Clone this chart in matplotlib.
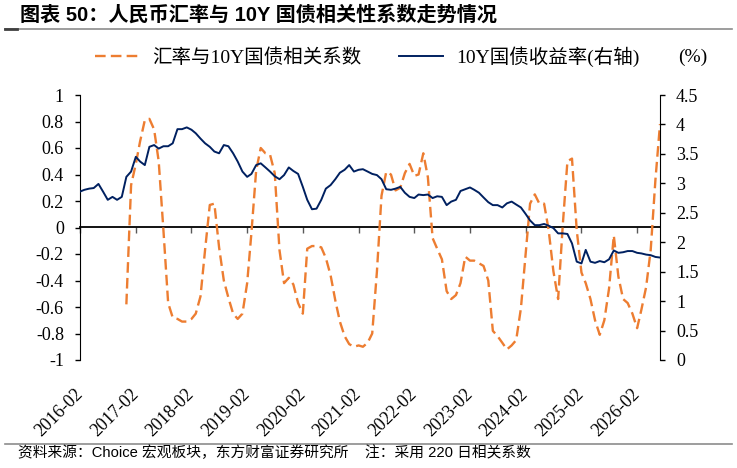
import matplotlib.pyplot as plt
import matplotlib.dates as mdates
import numpy as np
import pandas as pd

plt.rcParams['font.family'] = ['Liberation Serif', 'Noto Sans CJK SC']

# monthly points, 2016-02 .. 2026-07
months = pd.date_range('2016-02-01', '2026-07-01', freq='MS')

# 10Y government bond yield (%), right axis
yield_10y = [
    2.86, 2.89, 2.91, 2.92, 2.99, 2.86, 2.72, 2.77, 2.72, 2.77,
    3.11, 3.20, 3.45, 3.37, 3.31, 3.62, 3.65, 3.59, 3.63, 3.63,
    3.68, 3.92, 3.92, 3.95, 3.91, 3.85, 3.76, 3.68, 3.62, 3.54,
    3.51, 3.65, 3.63, 3.51, 3.37, 3.20, 3.11, 3.16, 3.31, 3.34,
    3.27, 3.20, 3.12, 3.07, 3.14, 3.27, 3.21, 3.16, 2.94, 2.72,
    2.56, 2.57, 2.72, 2.91, 2.97, 3.07, 3.18, 3.23, 3.31, 3.20,
    3.23, 3.24, 3.20, 3.16, 3.14, 3.07, 2.90, 2.89, 2.91, 2.94,
    2.84, 2.77, 2.75, 2.81, 2.80, 2.81, 2.75, 2.78, 2.77, 2.63,
    2.69, 2.72, 2.87, 2.90, 2.93, 2.89, 2.84, 2.76, 2.68, 2.63,
    2.63, 2.59, 2.66, 2.69, 2.64, 2.59, 2.48, 2.37, 2.29, 2.29,
    2.31, 2.28, 2.24, 2.15, 2.15, 2.14, 1.98, 1.67, 1.64, 1.87,
    1.67, 1.65, 1.68, 1.66, 1.71, 1.86, 1.82, 1.83, 1.85, 1.85,
    1.82, 1.81, 1.79, 1.78, 1.75, 1.74,
]

# 220-day correlation, FX vs 10Y yield, left axis
corr_fx = [np.nan] * 10 + [
    -0.58, 0.32, 0.48, 0.65, 0.81, 0.82, 0.74, 0.50, -0.02, -0.57,
    -0.68, -0.69, -0.71, -0.71, -0.69, -0.65, -0.52, -0.17, 0.17, 0.18,
    -0.15, -0.40, -0.53, -0.65, -0.69, -0.65, -0.42, -0.04, 0.43, 0.60,
    0.56, 0.55, 0.41, -0.17, -0.42, -0.38, -0.43, -0.57, -0.65, -0.16,
    -0.14, -0.14, -0.15, -0.23, -0.36, -0.55, -0.71, -0.82, -0.88, -0.90,
    -0.89, -0.90, -0.87, -0.80, -0.33, 0.24, 0.42, 0.40, 0.28, 0.30,
    0.41, 0.48, 0.39, 0.40, 0.56, 0.38, -0.08, -0.16, -0.24, -0.48,
    -0.54, -0.51, -0.42, -0.22, -0.25, -0.25, -0.27, -0.29, -0.40, -0.78,
    -0.82, -0.87, -0.92, -0.89, -0.85, -0.61, -0.20, 0.18, 0.25, 0.18,
    0.18, -0.02, -0.33, -0.54, 0.01, 0.50, 0.52, -0.02, -0.34, -0.42,
    -0.54, -0.70, -0.81, -0.70, -0.46, -0.06, -0.37, -0.54, -0.57, -0.65,
    -0.76, -0.62, -0.45, -0.17, 0.36, 0.78,
]

tick_labels = ['2016-02', '2017-02', '2018-02', '2019-02', '2020-02', '2021-02',
               '2022-02', '2023-02', '2024-02', '2025-02', '2026-02']
left_ticks = [1, 0.8, 0.6, 0.4, 0.2, 0, -0.2, -0.4, -0.6, -0.8, -1]
left_labels = ['1', '0.8', '0.6', '0.4', '0.2', '0', '-0.2', '-0.4', '-0.6', '-0.8', '-1']
right_ticks = [0, 0.5, 1, 1.5, 2, 2.5, 3, 3.5, 4, 4.5]
right_labels = ['0', '0.5', '1', '1.5', '2', '2.5', '3', '3.5', '4', '4.5']

tick_dates = pd.to_datetime(tick_labels)

fig = plt.figure(figsize=(7.37, 4.68), dpi=100)
ax = fig.add_axes([80 / 737, 1 - 360 / 468, 580 / 737, 265 / 468])
ax2 = ax.twinx()

l1, = ax.plot(months, corr_fx, color='#ED7D31', lw=1.7, dashes=(4.5, 2.2))
l2, = ax2.plot(months, yield_10y, color='#002060', lw=1.4)

ax.set_xlim(months[0], months[-1])
ax.set_ylim(-1, 1)
ax2.set_ylim(0, 4.5)

for s in ['top', 'right', 'bottom']:
    ax.spines[s].set_visible(False)
for s in ['top', 'left', 'bottom']:
    ax2.spines[s].set_visible(False)

# horizontal axis line at 0 with tick marks
zero = ax.secondary_xaxis(0.5)
zero.set_alignment('bottom')
zero.set_xticks(mdates.date2num(tick_dates))
zero.tick_params(axis='x', direction='out', length=4, width=1, color='#595959',
                 labelbottom=False, labeltop=False)
zero.spines['bottom'].set_linewidth(1.3)

ax.set_xticks(tick_dates)
ax.set_xticklabels(tick_labels, rotation=45, ha='right', va='center',
                   rotation_mode='anchor', fontsize=13)
ax.tick_params(axis='x', length=0, pad=23)

ax.set_yticks(left_ticks)
ax.set_yticklabels(left_labels, fontsize=13)
ax.tick_params(axis='y', direction='out', length=3.6, width=1, pad=8)

ax2.set_yticks(right_ticks)
ax2.set_yticklabels(right_labels, fontsize=13)
ax2.tick_params(axis='y', direction='out', length=3.6, width=1, pad=8)

fig.legend([l1, l2], ['汇率与10Y国债相关系数', '10Y国债收益率(右轴)'],
           loc='center left', bbox_to_anchor=(95 / 737, 1 - 57 / 468), ncol=2,
           frameon=False, fontsize=14, handlelength=2.3, handletextpad=0.65,
           columnspacing=1.9, borderpad=0, borderaxespad=0)
fig.text(678 / 737, 1 - 57 / 468, '(%)', fontsize=14, va='center')

fig.text(20 / 737, 1 - 15 / 468, '图表 50：人民币汇率与 10Y 国债相关性系数走势情况',
         fontsize=14.5, fontweight='bold', va='center',
         family=['Liberation Sans', 'Noto Sans CJK SC'])
fig.add_artist(plt.Line2D([5 / 737, 732 / 737], [1 - 29 / 468] * 2, color='#8C8C8C', lw=1.2))
fig.add_artist(plt.Line2D([5 / 737, 17 / 737], [1 - 29 / 468] * 2, color='#404040', lw=2))

fig.add_artist(plt.Line2D([5 / 737, 732 / 737], [1 - 444 / 468] * 2, color='#8C8C8C', lw=1.2))
fig.text(18 / 737, 1 - 453 / 468, '资料来源：Choice 宏观板块，东方财富证券研究所    注：采用 220 日相关系数',
         fontsize=10.6, va='center', family=['Liberation Sans', 'Noto Sans CJK SC'])

fig.savefig('out.png', dpi=100)
